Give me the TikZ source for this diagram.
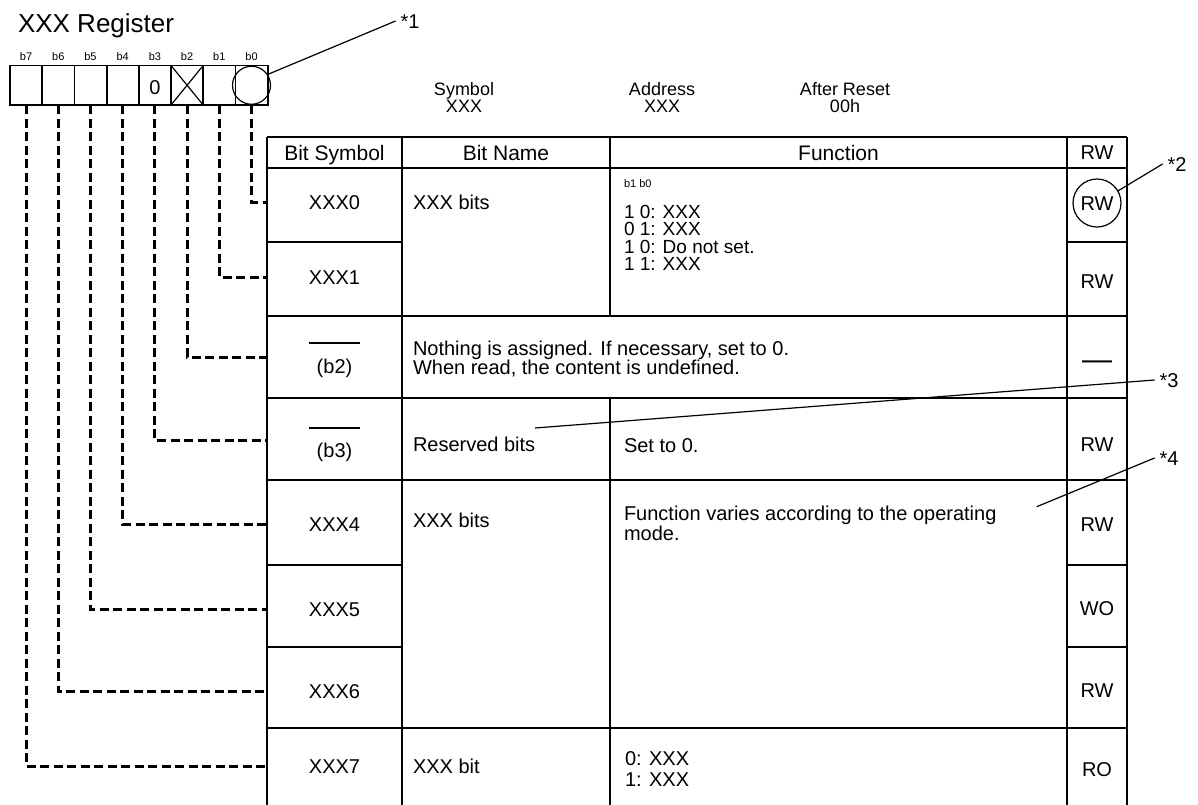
\documentclass[tikz,border=0pt]{standalone}
\usepackage{fontspec}
\setmainfont{Liberation Sans}
\begin{document}
\begin{tikzpicture}[x=1pt,y=-1pt,
  every node/.style={inner sep=0pt, outer sep=0pt},
  cell/.style={font=\fontsize{20}{19}\selectfont, text height=14.3pt, text depth=0pt},
  hdr/.style={font=\fontsize{21}{20}\selectfont, text height=15pt, text depth=0pt},
  small/.style={font=\fontsize{11}{12}\selectfont, text height=8pt, text depth=0pt},
  multi/.style={font=\fontsize{20}{19}\selectfont, align=left, anchor=north west},
  info/.style={font=\fontsize{18}{17.5}\selectfont, align=center, anchor=north},
  note/.style={font=\fontsize{20}{20}\selectfont, text height=14.3pt, text depth=0pt, inner sep=5pt},
  grid/.style={line width=1.8pt},
  regcell/.style={draw, line width=1.8pt, minimum width=32.2pt, minimum height=39.5pt},
  symcell/.style={cell, minimum width=135pt, minimum height=60pt},
  conn/.style={line width=3pt, dash pattern=on 9pt off 4.5pt},
  lead/.style={line width=1.2pt}
]
\useasboundingbox (0,0) rectangle (1198,804);

% ---------- register ----------
\node[font=\fontsize{26}{26}\selectfont, anchor=base west] (title) at (18,32) {XXX Register};
\foreach \i in {0,...,7}{
  \node[regcell] (r\i) at ({251.5-32.2*\i},85.25) {};
  \node[small] (bl\i) at ({251.5-32.2*\i},56) {b\i};
}
\node[cell] (zero) at ({251.5-32.2*3},87) {0};
\draw[lead] (r2.north west) -- (r2.south east) (r2.north east) -- (r2.south west);
\node[draw, circle, lead, minimum size=38pt] (c0) at (r0.center) {};
\node[note] (n1) at (410,21) {*1};
\draw[lead] (c0.34) -- (n1.west);

% ---------- info ----------
\node[info] (sym) at (464,82) {Symbol\\XXX};
\node[info] (adr) at (662,82) {Address\\XXX};
\node[info] (rst) at (845,82) {After Reset\\00h};

% ---------- table grid ----------
\draw[grid] (267,137) -- (1127,137);
\draw[grid] (267,168) -- (1127,168);
\draw[grid] (267,242) -- (402,242) (1067,242) -- (1127,242);
\draw[grid] (267,316) -- (1127,316);
\draw[grid] (267,398) -- (1127,398);
\draw[grid] (267,480) -- (1127,480);
\draw[grid] (267,565) -- (402,565) (1067,565) -- (1127,565);
\draw[grid] (267,647) -- (402,647) (1067,647) -- (1127,647);
\draw[grid] (267,728) -- (1127,728);
\draw[grid] (267,137) -- (267,806);
\draw[grid] (402,137) -- (402,806);
\draw[grid] (610,137) -- (610,316) (610,398) -- (610,806);
\draw[grid] (1067,137) -- (1067,806);
\draw[grid] (1127,137) -- (1127,806);

% ---------- header ----------
\node[hdr] (hs) at (334.5,152.5) {Bit Symbol};
\node[hdr] (hn) at (506,152.5) {Bit Name};
\node[hdr] (hf) at (838.5,152.5) {Function};
\node[cell] (hr) at (1097,152.5) {RW};

% ---------- bit symbol cells ----------
\node[symcell] (s0) at (334.5,202) {XXX0};
\node[symcell] (s1) at (334.5,277) {XXX1};
\node[symcell] (s2) at (334.5,357) {};
\node[cell] (s2t) at (334.5,366) {(b2)};
\draw[lead] ([shift={(-25.5,-14)}]s2.center) -- ([shift={(25.5,-14)}]s2.center);
\node[symcell] (s3) at (334.5,440) {};
\node[cell] (s3t) at (334.5,450) {(b3)};
\draw[lead] ([shift={(-25.5,-12)}]s3.center) -- ([shift={(25.5,-12)}]s3.center);
\node[symcell] (s4) at (334.5,524) {XXX4};
\node[symcell] (s5) at (334.5,609) {XXX5};
\node[symcell] (s6) at (334.5,691) {XXX6};
\node[symcell] (s7) at (334.5,766) {XXX7};

% ---------- connectors ----------
\foreach \i in {0,...,7}{
  \draw[conn] (r\i.south) |- (s\i.west);
}

% ---------- bit names / functions ----------
\node[cell, anchor=west] (bn0) at (413,202) {XXX bits};
\node[small, anchor=west] (fb) at (624,183) {b1 b0};
\node[multi, font=\fontsize{19}{17.5}\selectfont] (f0) at (624,205) {1 0: XXX\\0 1: XXX\\1 0: Do not set.\\1 1: XXX};
\node[multi] (nb2) at (413,340.5) {Nothing is assigned. If necessary, set to 0.\\When read, the content is undefined.};
\node[cell, anchor=west] (bn3) at (413,444) {Reserved bits};
\node[cell, anchor=west] (f3) at (624,445) {Set to 0.};
\node[cell, anchor=west] (bn4) at (413,520) {XXX bits};
\node[multi, font=\fontsize{20}{18}\selectfont] (f4) at (624,506) {Function varies according to the operating\\mode.};
\node[cell, anchor=west] (bn7) at (413,766) {XXX bit};
\node[multi, font=\fontsize{20}{21}\selectfont] (f7) at (625,752) {0: XXX\\1: XXX};

% ---------- RW column ----------
\node[cell] (w0) at (1097,203) {RW};
\node[draw, circle, lead, minimum size=48pt] (w0c) at (w0.center) {};
\node[cell] (w1) at (1097,281) {RW};
\node[font=\fontsize{30}{30}\selectfont, anchor=base] (w2) at (1097,369.5) {—};
\node[cell] (w3) at (1097,444) {RW};
\node[cell] (w4) at (1097,524) {RW};
\node[cell] (w5) at (1097,608) {WO};
\node[cell] (w6) at (1097,690) {RW};
\node[cell] (w7) at (1097,769) {RO};

% ---------- annotations ----------
\node[note] (n2) at (1177,164) {*2};
\draw[lead] (w0c.30) -- (n2.west);
\coordinate (a3) at (535,428);
\node[note] (n3) at (1169,380) {*3};
\draw[lead] (a3) -- (n3.west);
\coordinate (a4) at (1036.7,506.7);
\node[note] (n4) at (1169,458) {*4};
\draw[lead] (a4) -- (n4.west);
\end{tikzpicture}
\end{document}
